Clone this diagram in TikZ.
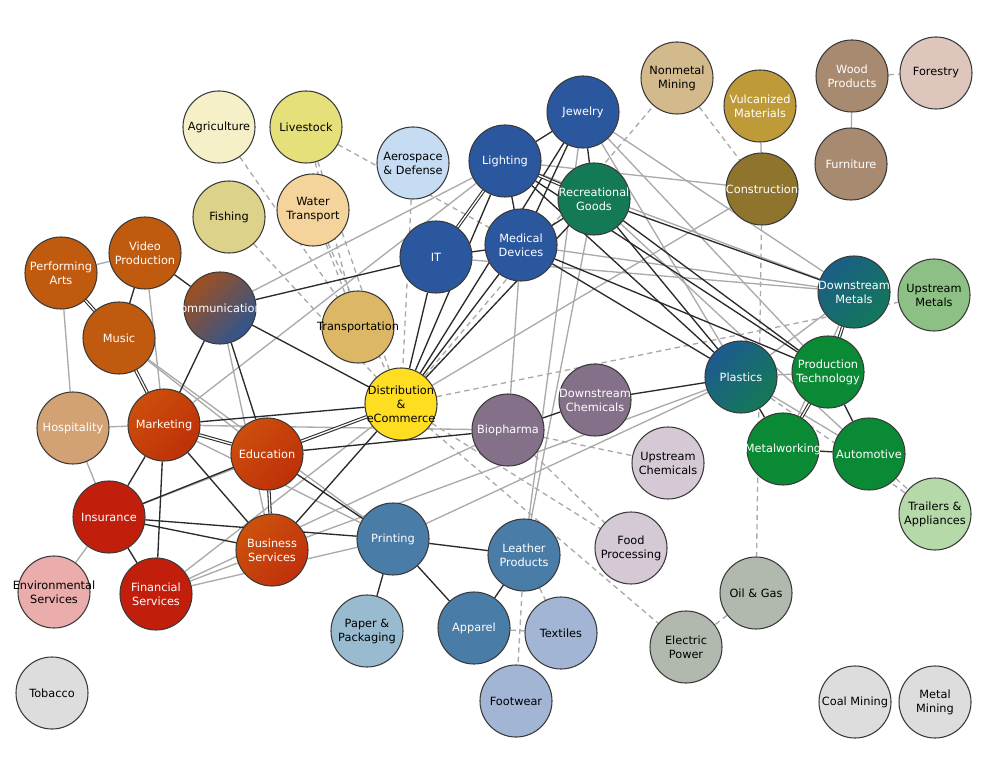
\documentclass[tikz,border=0pt]{standalone}
\usepackage{fontspec}
\setmainfont{DejaVu Sans}
\usetikzlibrary{backgrounds}
\newcommand{\zb}[1]{\makebox[0pt]{#1}}
\definecolor{bordc}{HTML}{3A3A3A}
\definecolor{darkc}{HTML}{2A2A2A}
\definecolor{greyc}{HTML}{AAAAAA}
\definecolor{blu}{HTML}{2B579E}
\definecolor{orng}{HTML}{C05A0E}
\definecolor{grn}{HTML}{0B8A36}
\definecolor{ptl}{HTML}{4A7CA8}
\definecolor{purp}{HTML}{857089}
\definecolor{lpur}{HTML}{D5C9D5}
\definecolor{redd}{HTML}{C21E0C}
\definecolor{lgry}{HTML}{DDDDDD}
\definecolor{olv}{HTML}{B1B8AD}
\definecolor{ltbl}{HTML}{A2B5D5}
\definecolor{wdc}{HTML}{A88A70}
\definecolor{cagri}{HTML}{F5F0C8}
\definecolor{clive}{HTML}{E6E07A}
\definecolor{cfish}{HTML}{DCD28A}
\definecolor{cwater}{HTML}{F5D49B}
\definecolor{caero}{HTML}{C5DCF2}
\definecolor{crecr}{HTML}{137A55}
\definecolor{cnonm}{HTML}{D3BA8C}
\definecolor{cvulc}{HTML}{BE9A38}
\definecolor{cconstr}{HTML}{8E742C}
\definecolor{cforest}{HTML}{DEC6BC}
\definecolor{cdmA}{HTML}{1B5E86}
\definecolor{cdmB}{HTML}{12785A}
\definecolor{cumet}{HTML}{8DC084}
\definecolor{ccomA}{HTML}{A0501E}
\definecolor{ccomB}{HTML}{2E5590}
\definecolor{ctransp}{HTML}{DCB765}
\definecolor{cdist}{HTML}{FFDE21}
\definecolor{chosp}{HTML}{D2A274}
\definecolor{cmkA}{HTML}{CC4E0C}
\definecolor{cmkB}{HTML}{BE3008}
\definecolor{cplA}{HTML}{1E5A90}
\definecolor{cplB}{HTML}{137A55}
\definecolor{ctrail}{HTML}{B6D9A9}
\definecolor{cbusA}{HTML}{CC520C}
\definecolor{cbusB}{HTML}{C0300C}
\definecolor{cenv}{HTML}{EBACAC}
\definecolor{cpaper}{HTML}{98BBCF}
\begin{document}
\begin{tikzpicture}[x=0.75pt,y=-0.75pt,
  nd/.style={circle, draw=bordc, line width=0.8pt, minimum size=54pt, inner sep=0pt, align=center, font=\fontsize{8.5}{10.5}\selectfont},
  wt/.style={nd, text=white},
  bk/.style={nd, text=black},
  dk/.style={draw=darkc, line width=1pt},
  dd/.style={draw=darkc, line width=0.8pt, double=white, double distance=1pt},
  gr/.style={draw=greyc, line width=1pt},
  ds/.style={draw=greyc, line width=1pt, dash pattern=on 4pt off 3pt}]
\useasboundingbox (0,0) rectangle (984,762);
% nodes
\node[bk, fill=cagri] (agri) at (219,127) {\zb{Agriculture}};
\node[bk, fill=clive] (live) at (306,127) {\zb{Livestock}};
\node[bk, fill=cfish] (fish) at (229,217) {\zb{Fishing}};
\node[bk, fill=cwater] (water) at (313,210) {\zb{Water}\\\zb{Transport}};
\node[bk, fill=caero] (aero) at (413,163) {\zb{Aerospace}\\\zb{\& Defense}};
\node[wt, fill=blu] (light) at (505,161) {\zb{Lighting}};
\node[wt, fill=blu] (jewel) at (583,112) {\zb{Jewelry}};
\node[wt, fill=crecr] (recr) at (594,199) {\zb{Recreational}\\\zb{Goods}};
\node[wt, fill=blu] (med) at (521,245) {\zb{Medical}\\\zb{Devices}};
\node[wt, fill=blu] (it) at (436,257) {\zb{IT}};
\node[bk, fill=cnonm] (nonm) at (677,78) {\zb{Nonmetal}\\\zb{Mining}};
\node[wt, fill=cvulc] (vulc) at (760,106) {\zb{Vulcanized}\\\zb{Materials}};
\node[wt, fill=cconstr] (constr) at (762,189) {\zb{Construction}};
\node[wt, fill=wdc] (wood) at (852,76) {\zb{Wood}\\\zb{Products}};
\node[bk, fill=cforest] (forest) at (936,73) {\zb{Forestry}};
\node[wt, fill=wdc] (furn) at (851,164) {\zb{Furniture}};
\node[wt, left color=cdmA, right color=cdmB, shading angle=45] (dmet) at (854,292) {\zb{Downstream}\\\zb{Metals}};
\node[bk, fill=cumet] (umet) at (934,295) {\zb{Upstream}\\\zb{Metals}};
\node[wt, fill=orng] (perf) at (61,273) {\zb{Performing}\\\zb{Arts}};
\node[wt, fill=orng] (video) at (145,253) {\zb{Video}\\\zb{Production}};
\node[wt, left color=ccomA, right color=ccomB, shading angle=45] (comm) at (220,308) {\zb{Communications}};
\node[wt, fill=orng] (music) at (119,338) {\zb{Music}};
\node[bk, fill=ctransp] (transp) at (358,327) {\zb{Transportation}};
\node[bk, fill=cdist] (dist) at (401,404) {\zb{Distribution}\\\zb{\&}\\\zb{eCommerce}};
\node[wt, fill=chosp] (hosp) at (73,428) {\zb{Hospitality}};
\node[wt, left color=cmkA, right color=cmkB, shading angle=45] (mark) at (164,425) {\zb{Marketing}};
\node[wt, left color=cmkA, right color=cmkB, shading angle=45] (edu) at (267,454) {\zb{Education}};
\node[wt, fill=purp] (bio) at (508,430) {\zb{Biopharma}};
\node[wt, fill=purp] (dchem) at (595,400) {\zb{Downstream}\\\zb{Chemicals}};
\node[bk, fill=lpur] (uchem) at (668,463) {\zb{Upstream}\\\zb{Chemicals}};
\node[wt, left color=cplA, right color=cplB, shading angle=45] (plast) at (741,377) {\zb{Plastics}};
\node[wt, fill=grn] (prod) at (828,372) {\zb{Production}\\\zb{Technology}};
\node[wt, fill=grn] (metw) at (783,449) {\zb{Metalworking}};
\node[wt, fill=grn] (auto) at (869,454) {\zb{Automotive}};
\node[bk, fill=ctrail] (trail) at (935,514) {\zb{Trailers \&}\\\zb{Appliances}};
\node[wt, fill=redd] (ins) at (109,517) {\zb{Insurance}};
\node[wt, left color=cbusA, right color=cbusB, shading angle=45] (bus) at (272,550) {\zb{Business}\\\zb{Services}};
\node[wt, fill=ptl] (print) at (393,539) {\zb{Printing}};
\node[wt, fill=ptl] (leath) at (524,555) {\zb{Leather}\\\zb{Products}};
\node[bk, fill=lpur] (food) at (631,548) {\zb{Food}\\\zb{Processing}};
\node[bk, fill=cenv] (env) at (54,592) {\zb{Environmental}\\\zb{Services}};
\node[wt, fill=redd] (fin) at (156,594) {\zb{Financial}\\\zb{Services}};
\node[bk, fill=cpaper] (paper) at (367,631) {\zb{Paper \&}\\\zb{Packaging}};
\node[wt, fill=ptl] (app) at (474,628) {\zb{Apparel}};
\node[bk, fill=ltbl] (textl) at (561,633) {\zb{Textiles}};
\node[bk, fill=ltbl] (foot) at (516,701) {\zb{Footwear}};
\node[bk, fill=olv] (oil) at (756,593) {\zb{Oil \& Gas}};
\node[bk, fill=olv] (elec) at (686,647) {\zb{Electric}\\\zb{Power}};
\node[bk, fill=lgry] (coal) at (855,702) {\zb{Coal Mining}};
\node[bk, fill=lgry] (metm) at (935,702) {\zb{Metal}\\\zb{Mining}};
\node[bk, fill=lgry] (tob) at (52,693) {\zb{Tobacco}};
\begin{pgfonlayer}{background}
\fill[white] (0,0) rectangle (984,762);
% dashed
\draw[ds] (agri) -- (transp);
\draw[ds] (fish) -- (dist);
\draw[ds] (live) -- (med);
\draw[ds] (live) -- (transp);
\draw[ds] (live) -- (dist);
\draw[ds] (water) -- (transp);
\draw[ds] (water) -- (dist);
\draw[ds] (aero) -- (dist);
\draw[ds] (dist) -- (umet);
\draw[ds] (dist) -- (food);
\draw[ds] (dist) -- (elec);
\draw[ds] (dist) -- (nonm);
\draw[ds] (bio) -- (uchem);
\draw[ds] (bio) -- (food);
\draw[ds] (nonm) -- (constr);
\draw[ds] (constr) -- (oil);
\draw[ds] (oil) -- (elec);
\draw[ds] (wood) -- (forest);
\draw[ds] (leath) -- (foot);
\draw[ds] (leath) -- (textl);
\draw[ds] (app) -- (textl);
\draw[ds] (auto) -- (trail);
\draw[ds] (plast) -- (trail);
% grey
\draw[gr] (perf) -- (video);
\draw[gr] (perf) -- (hosp);
\draw[gr] (video) -- (mark);
\draw[gr] (music) -- (edu);
\draw[gr] (music) -- (print);
\draw[gr] (hosp) -- (mark);
\draw[gr] (hosp) -- (ins);
\draw[gr] (env) -- (ins);
\draw[gr] (fin) -- (bus);
\draw[gr] (fin) -- (print);
\draw[gr] (fin) -- (bio);
\draw[gr] (fin) -- (dist);
\draw[gr] (mark) -- (print);
\draw[gr] (mark) -- (bio);
\draw[gr] (mark) -- (light);
\draw[gr] (comm) -- (light);
\draw[gr] (comm) -- (bus);
\draw[gr] (ins) -- (dist);
\draw[gr] (bus) -- (plast);
\draw[gr] (print) -- (plast);
\draw[gr] (dist) -- (constr);
\draw[gr] (bio) -- (med);
\draw[gr] (leath) -- (jewel);
\draw[gr] (leath) -- (recr);
\draw[gr] (jewel) -- (plast);
\draw[gr] (jewel) -- (dmet);
\draw[gr] (jewel) -- (prod);
\draw[gr] (light) -- (constr);
\draw[gr] (it) -- (dmet);
\draw[gr] (med) -- (dmet);
\draw[gr] (light) -- (dmet);
\draw[gr] (plast) -- (prod);
\draw[gr] (plast) -- (auto);
\draw[gr] (dmet) -- (plast);
\draw[gr] (dmet) -- (metw);
\draw[gr] (vulc) -- (constr);
\draw[gr] (wood) -- (furn);
\draw[gr] (recr) -- (auto);
% dark
\draw[dd] (perf) -- (music);
\draw[dk] (video) -- (music);
\draw[dk] (video) -- (comm);
\draw[dd] (music) -- (mark);
\draw[dk] (comm) -- (mark);
\draw[dk] (comm) -- (edu);
\draw[dk] (comm) -- (dist);
\draw[dk] (comm) -- (it);
\draw[dd] (mark) -- (edu);
\draw[dk] (mark) -- (ins);
\draw[dk] (mark) -- (fin);
\draw[dk] (mark) -- (bus);
\draw[dk] (mark) -- (dist);
\draw[dk] (ins) -- (edu);
\draw[dk] (ins) -- (bus);
\draw[dk] (ins) -- (print);
\draw[dk] (ins) -- (fin);
\draw[dd] (edu) -- (bus);
\draw[dd] (edu) -- (dist);
\draw[dk] (edu) -- (bio);
\draw[dk] (edu) -- (print);
\draw[dk] (bus) -- (dist);
\draw[dk] (print) -- (leath);
\draw[dk] (print) -- (paper);
\draw[dk] (print) -- (app);
\draw[dk] (leath) -- (app);
\draw[dk] (dist) -- (it);
\draw[dk] (dist) -- (light);
\draw[dk] (dist) -- (med);
\draw[dk] (dist) -- (jewel);
\draw[dk] (dist) -- (recr);
\draw[dd] (it) -- (light);
\draw[dk] (it) -- (med);
\draw[dk] (light) -- (jewel);
\draw[dk] (light) -- (med);
\draw[dd] (light) -- (recr);
\draw[dk] (light) -- (plast);
\draw[dk] (light) -- (prod);
\draw[dk] (jewel) -- (recr);
\draw[dk] (jewel) -- (med);
\draw[dk] (med) -- (recr);
\draw[dk] (med) -- (plast);
\draw[dk] (med) -- (prod);
\draw[dk] (recr) -- (dmet);
\draw[dk] (recr) -- (plast);
\draw[dk] (recr) -- (prod);
\draw[dk] (bio) -- (dchem);
\draw[dk] (dchem) -- (plast);
\draw[dk] (plast) -- (metw);
\draw[dd] (prod) -- (metw);
\draw[dk] (prod) -- (auto);
\draw[dd] (prod) -- (dmet);
\draw[dk] (metw) -- (auto);
\end{pgfonlayer}
\end{tikzpicture}
\end{document}
